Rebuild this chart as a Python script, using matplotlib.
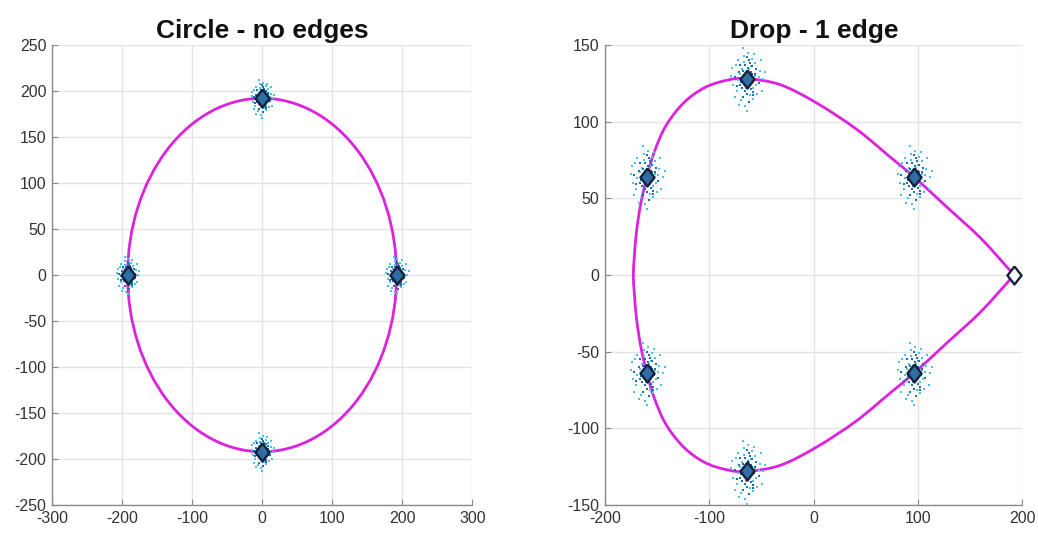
import numpy as np
import matplotlib
matplotlib.use("Agg")
import matplotlib.pyplot as plt
from matplotlib.patches import Circle, PathPatch
from matplotlib.path import Path

plt.rcParams['font.family'] = ['Liberation Sans', 'DejaVu Sans']
plt.rcParams['axes.unicode_minus'] = False

# ---- data ----
circle_radius = 192
circle_x = [192, 0, -192, 0]
circle_y = [0, 192, 0, -192]

drop_x = [-160, -64, 96, 96, -64, -160]
drop_y = [64, 128, 64, -64, -128, -64]
edge_x = [192]
edge_y = [0]

# drop outline (counterclockwise from the edge point)
drop_curve_x = [192, 160, 128, 96, 73, 41, 3, -32, -64, -83, -105, -125, -142,
                -153, -160, -166, -170, -172, -173,
                -172, -170, -166, -160, -153, -142, -125, -105, -83, -64, -32, 3,
                41, 73, 96, 128, 160, 192]
drop_curve_y = [0, 24, 44, 64, 77, 95, 112, 124, 128, 127, 122, 112, 97,
                80, 64, 46, 28, 12, 0,
                -12, -28, -46, -64, -80, -97, -112, -122, -127, -128, -124, -112,
                -95, -77, -64, -44, -24, 0]

# spread of the samples round each point (offsets read from one cluster)
dark_dx = [-3, 2, 5, -6, 1, -2, 7, -8, 3, -4, 9, -10, 0, 2, 11, -12, 6, -7, 4, -1,
           -5, 5, -4, 4, 0, -7, 8, 2, -2, 6]
dark_dy = [2, -4, 3, -2, 7, -8, -1, 4, 10, -12, 6, -5, 14, -15, -3, 1, -9, 9, 4, -3,
           -6, 8, 5, -7, -10, -4, 3, 12, 9, -11]
light_dx = [-5, 6, 8, -9, 3, -3, 12, -13, 1, -2, 10, -11, 15, -15, 5, -6, 14, -14,
            7, -8, 17, -4, 0, 13, -12, -7, 9, -10, 4, -3, 6, 11, -1, 2, -9, 8]
light_dy = [6, -6, 2, -1, -11, 11, 5, -4, 17, -18, -10, 9, 0, 2, 13, -14, -8, 7,
            16, -17, 4, 20, -21, 12, -12, 3, -4, -8, 8, 15, -13, 1, -6, 6, 12, 10]

magenta = '#DD22DD'
dot_dark = '#1F6FAF'
dot_light = '#4DBEEE'
dia_face = '#2F6EA5'
dia_edge = '#13213A'
diamond = [(0, 1), (0.78, 0), (0, -1), (-0.78, 0), (0, 1)]


def smooth_path(xs, ys):
    # cubic Bezier segments (Catmull-Rom tangents) through the read points
    p = np.column_stack([xs, ys]).astype(float)
    n = len(p)
    verts = [p[0]]
    codes = [Path.MOVETO]
    for i in range(n - 1):
        p0 = p[i - 1] if i > 0 else p[i]
        p3 = p[i + 2] if i + 2 < n else p[i + 1]
        c1 = p[i] + (p[i + 1] - p0) / 6.0
        c2 = p[i + 1] - (p3 - p[i]) / 6.0
        verts += [c1, c2, p[i + 1]]
        codes += [Path.CURVE4] * 3
    return Path(verts, codes)


def draw_clusters(ax, xs, ys):
    for cx, cy in zip(xs, ys):
        ax.scatter(np.add(cx, light_dx), np.add(cy, light_dy), s=4.5, marker='s',
                   color=dot_light, linewidths=0, zorder=3)
        ax.scatter(np.add(cx, dark_dx), np.add(cy, dark_dy), s=4.5, marker='s',
                   color=dot_dark, linewidths=0, zorder=3)
    ax.plot(xs, ys, linestyle='none', marker=diamond, markersize=13,
            markerfacecolor=dia_face, markeredgecolor=dia_edge,
            markeredgewidth=1.7, zorder=4)


def style_axes(ax, title):
    ax.set_title(title, fontsize=19, fontweight='bold', pad=5, color='#111111')
    ax.grid(True, color='#e4e4e4', linewidth=1)
    ax.set_axisbelow(True)
    for s in ['top', 'right']:
        ax.spines[s].set_visible(False)
    for s in ['left', 'bottom']:
        ax.spines[s].set_color('#8a8a8a')
        ax.spines[s].set_linewidth(1.0)
    ax.tick_params(direction='in', length=4, width=0.8, color='#8a8a8a',
                   labelsize=11.5, labelcolor='#333333', pad=4)


fig = plt.figure(figsize=(10.38, 5.34), dpi=100)
ax1 = fig.add_axes([0.050, 0.054, 0.405, 0.862])
ax2 = fig.add_axes([0.583, 0.054, 0.402, 0.862])

# left: circle
ax1.add_patch(Circle((0, 0), circle_radius, fill=False, edgecolor=magenta,
                     linewidth=2, zorder=2))
draw_clusters(ax1, circle_x, circle_y)
ax1.set_xlim(-300, 300)
ax1.set_ylim(-250, 250)
ax1.set_xticks(np.arange(-300, 301, 100))
ax1.set_yticks(np.arange(-250, 251, 50))
style_axes(ax1, 'Circle - no edges')

# right: drop
ax2.add_patch(PathPatch(smooth_path(drop_curve_x, drop_curve_y), fill=False,
                        edgecolor=magenta, linewidth=2, zorder=2))
draw_clusters(ax2, drop_x, drop_y)
ax2.plot(edge_x, edge_y, linestyle='none', marker=diamond, markersize=13,
         markerfacecolor='white', markeredgecolor=dia_edge,
         markeredgewidth=1.7, zorder=4)
ax2.set_xlim(-200, 200)
ax2.set_ylim(-150, 150)
ax2.set_xticks(np.arange(-200, 201, 100))
ax2.set_yticks(np.arange(-150, 151, 50))
style_axes(ax2, 'Drop - 1 edge')

plt.savefig('out.png', dpi=100)
